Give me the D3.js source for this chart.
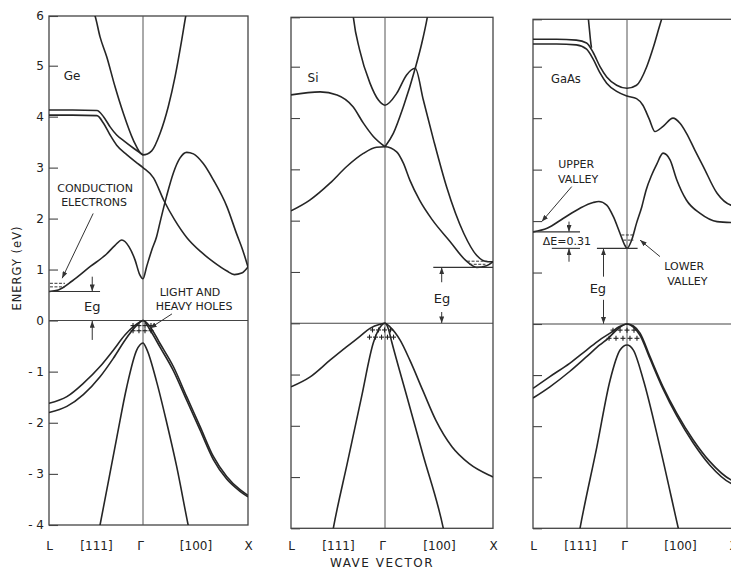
<!DOCTYPE html>
<html><head><meta charset="utf-8">
<script src="https://cdn.jsdelivr.net/npm/d3@7"></script>
<style>
body{margin:0;background:#fff}
text{font-family:"DejaVu Sans",sans-serif;fill:#222}
</style></head><body>
<script>
// wave vector k: L = -1, Gamma = 0, X = 1 ; energy E in eV
var kTickVals = [-1, -0.5, 0, 0.5, 1];
var kTickLabels = ["L", "[111]", "\u0393", "[100]", "X"];
var energyTicks = [-4, -3, -2, -1, 0, 1, 2, 3, 4, 5, 6];

// ---- Ge ----
var geCondA = [[-0.53,6.1],[-0.51,6.0],[-0.457,5.58],[-0.386,5.18],[-0.298,4.59],[-0.21,4.07],[-0.103,3.54],[0,3.25],[0.083,3.33],[0.162,3.67],[0.241,4.2],[0.305,4.78],[0.369,5.52],[0.407,6.0],[0.42,6.15]];
var geCondB = [[-1,4.13],[-0.75,4.13],[-0.49,4.12],[-0.42,4.0],[-0.35,3.8],[-0.28,3.64],[-0.2,3.52],[-0.1,3.38],[0,3.25]];
var geCondC = [[-1,4.03],[-0.75,4.03],[-0.49,4.02],[-0.42,3.87],[-0.35,3.64],[-0.28,3.44],[-0.17,3.25],[-0.07,3.1],[0,3.0],[0.1,2.8],[0.2,2.35],[0.3,1.98],[0.42,1.62],[0.55,1.35],[0.67,1.15],[0.8,0.97],[0.87,0.9],[0.94,0.93],[1,1.05]];
var geCondD = [[-1,0.57],[-0.9,0.6],[-0.75,0.78],[-0.56,1.06],[-0.39,1.3],[-0.3,1.47],[-0.225,1.58],[-0.15,1.45],[-0.085,1.19],[-0.035,0.9],[0,0.82],[0.035,1.06],[0.083,1.38],[0.13,1.65],[0.165,1.95],[0.226,2.45],[0.29,2.9],[0.35,3.18],[0.416,3.3],[0.48,3.27],[0.574,3.08],[0.67,2.76],[0.8,2.23],[0.89,1.71],[0.95,1.38],[1,1.05]];
var geHeavy = [[-1,-1.62],[-0.81,-1.49],[-0.635,-1.23],[-0.457,-0.9],[-0.316,-0.58],[-0.19,-0.28],[-0.103,-0.12],[-0.032,-0.03],[0,0],[0.067,-0.12],[0.162,-0.45],[0.289,-0.9],[0.416,-1.49],[0.543,-2.07],[0.67,-2.66],[0.797,-3.05],[0.924,-3.31],[1,-3.42]];
var geLight = [[-1,-1.8],[-0.81,-1.68],[-0.635,-1.45],[-0.457,-1.1],[-0.316,-0.74],[-0.19,-0.38],[-0.085,-0.13],[0,0],[0.06,-0.16],[0.162,-0.52],[0.289,-0.98],[0.416,-1.56],[0.543,-2.14],[0.67,-2.72],[0.797,-3.1],[0.924,-3.34],[1,-3.45]];
var geSplit = [[-0.47,-4.12],[-0.457,-4.0],[-0.28,-2.3],[-0.173,-1.3],[-0.067,-0.58],[0,-0.44],[0.035,-0.56],[0.13,-1.2],[0.226,-2.0],[0.32,-2.85],[0.43,-4.0],[0.44,-4.1]];

// ---- Si ----
var siCondTop = [[-0.345,6.15],[-0.335,5.98],[-0.27,5.34],[-0.16,4.68],[-0.07,4.35],[0,4.25],[0.108,4.48],[0.2,4.84],[0.28,4.97],[0.355,4.35],[0.45,3.57],[0.57,2.66],[0.73,1.75],[0.85,1.32],[0.95,1.2],[1,1.2]];
var siUpperLeft = [[-1,4.45],[-0.69,4.51],[-0.51,4.45],[-0.34,4.22],[-0.23,3.9],[-0.124,3.64],[0,3.44]];
var siRisingRight = [[0,3.44],[0.077,3.7],[0.17,4.22],[0.28,4.97],[0.34,5.47],[0.39,5.98],[0.4,6.1]];
var siHump = [[-1,2.19],[-0.8,2.4],[-0.585,2.73],[-0.41,3.05],[-0.23,3.31],[-0.09,3.43],[0,3.44],[0.108,3.34],[0.17,3.12],[0.23,2.79],[0.32,2.4],[0.44,2.01],[0.6,1.6],[0.75,1.22],[0.85,1.09],[0.94,1.12],[1,1.2]];
var siHeavy = [[-1,-1.24],[-0.8,-1.05],[-0.585,-0.72],[-0.41,-0.46],[-0.27,-0.26],[-0.16,-0.1],[-0.053,-0.02],[0,0],[0.046,-0.07],[0.14,-0.33],[0.23,-0.72],[0.35,-1.31],[0.47,-1.89],[0.62,-2.41],[0.78,-2.74],[0.99,-2.99],[1,-3.0]];
var siLight = [[-0.56,-4.1],[-0.55,-4.0],[-0.4,-2.72],[-0.25,-1.44],[-0.124,-0.38],[-0.06,-0.1],[0,0],[0.03,-0.1],[0.062,-0.36],[0.2,-1.41],[0.35,-2.55],[0.54,-4.0],[0.55,-4.1]];

// ---- GaAs ----
var gaCondStub = [[-0.415,6.1],[-0.408,5.95],[-0.398,5.75],[-0.388,5.55],[-0.378,5.4]];
var gaCondUpper = [[-1,5.58],[-0.75,5.58],[-0.54,5.56],[-0.43,5.5],[-0.36,5.3],[-0.287,5.0],[-0.216,4.8],[-0.11,4.64],[0,4.58],[0.09,4.64],[0.186,5.0],[0.25,5.42],[0.31,5.88],[0.34,6.1]];
var gaCondLower = [[-1,5.48],[-0.75,5.48],[-0.54,5.46],[-0.43,5.37],[-0.36,5.16],[-0.287,4.88],[-0.216,4.68],[-0.11,4.52],[0,4.43],[0.09,4.38],[0.15,4.25],[0.21,3.98],[0.264,3.74],[0.34,3.84],[0.434,4.0],[0.5,3.9],[0.56,3.71],[0.64,3.38],[0.72,3.06],[0.85,2.54],[0.98,2.31],[1,2.3]];
var gaCondLow = [[-1,1.79],[-0.85,1.86],[-0.68,2.05],[-0.5,2.25],[-0.36,2.36],[-0.3,2.38],[-0.216,2.31],[-0.146,2.09],[-0.074,1.76],[-0.02,1.52],[0,1.47],[0.044,1.63],[0.09,1.96],[0.14,2.28],[0.18,2.6],[0.23,2.88],[0.28,3.1],[0.34,3.32],[0.406,3.19],[0.47,2.8],[0.56,2.41],[0.69,2.15],[0.85,1.99],[1,1.97]];
var gaHeavy = [[-1,-1.26],[-0.82,-1.03],[-0.61,-0.77],[-0.43,-0.51],[-0.29,-0.31],[-0.18,-0.18],[-0.08,-0.05],[0,0],[0.06,-0.04],[0.123,-0.18],[0.217,-0.64],[0.34,-1.23],[0.47,-1.75],[0.625,-2.27],[0.78,-2.69],[0.98,-3.05],[1,-3.07]];
var gaLight = [[-1,-1.45],[-0.82,-1.23],[-0.61,-0.93],[-0.43,-0.64],[-0.29,-0.41],[-0.2,-0.28],[-0.1,-0.1],[0,0],[0.06,-0.06],[0.123,-0.22],[0.217,-0.68],[0.34,-1.27],[0.47,-1.8],[0.625,-2.33],[0.78,-2.76],[0.98,-3.12],[1,-3.14]];
var gaSplit = [[-0.51,-4.1],[-0.5,-4.0],[-0.32,-2.4],[-0.18,-1.1],[-0.074,-0.51],[0,-0.41],[0.06,-0.51],[0.155,-1.1],[0.31,-2.4],[0.484,-4.0],[0.495,-4.1]];

// hole and electron markers
var geHoleRows = [{E:-0.1, k:[-0.106,-0.043,0.019,0.076]}, {E:-0.2, k:[-0.106,-0.043,0.019,0.076]}];
var siHoleRows = [{E:-0.13, k:[-0.133,-0.069,-0.005,0.051]}, {E:-0.27, k:[-0.165,-0.101,-0.037,0.023,0.079]}];
var gaHoleRows = [{E:-0.12, k:[-0.149,-0.074,0,0.066]}, {E:-0.28, k:[-0.191,-0.117,-0.043,0.028,0.094]}];
var geElectronRows = [{E:0.73, k:[-0.99,-0.83]}, {E:0.66, k:[-0.99,-0.83]}];
var siElectronRows = [{E:1.21, k:[0.76,0.95]}, {E:1.15, k:[0.78,0.93]}];
var gaElectronRows = [{E:1.73, k:[-0.06,0.075]}, {E:1.63, k:[-0.04,0.06]}];

var svg = d3.select("body").append("svg").attr("width", 731).attr("height", 572);
var defs = svg.append("defs");
defs.append("marker").attr("id", "ah").attr("viewBox", "0 0 8 6")
  .attr("refX", 8).attr("refY", 3).attr("markerWidth", 7).attr("markerHeight", 5)
  .attr("markerUnits", "userSpaceOnUse").attr("orient", "auto")
  .append("path").attr("d", "M0,0L8,3L0,6Z").attr("fill", "#333");

var panels = [
  {id: "ge", xr: [49, 143, 248], yr: [525, 320.5, 65.7, 16], labels: true,
   bands: [geCondA, geCondB, geCondC, geCondD, geHeavy, geLight, geSplit],
   holes: geHoleRows, electrons: geElectronRows},
  {id: "si", xr: [291, 385, 493], yr: [528.3, 323.3, 66.7, 17.3], labels: false,
   bands: [siCondTop, siUpperLeft, siRisingRight, siHump, siHeavy, siLight],
   holes: siHoleRows, electrons: siElectronRows},
  {id: "ga", xr: [533, 627, 733], yr: [528.3, 324, 66.7, 19.3], labels: false,
   bands: [gaCondStub, gaCondUpper, gaCondLower, gaCondLow, gaHeavy, gaLight, gaSplit],
   holes: gaHoleRows, electrons: gaElectronRows}
];

function fmtE(d) { return d < 0 ? "- " + Math.abs(d) : String(d); }

panels.forEach(function(p) {
  p.x = d3.scaleLinear().domain([-1, 0, 1]).range(p.xr);
  p.y = d3.scaleLinear().domain([-4, 0, 5, 6]).range(p.yr);
  var x0 = p.xr[0], x1 = p.xr[2], yT = p.yr[3], yB = p.yr[0];
  var g = svg.append("g");

  defs.append("clipPath").attr("id", "clip-" + p.id).append("rect")
    .attr("x", x0).attr("y", yT).attr("width", x1 - x0).attr("height", yB - yT);

  // energy ticks (inward)
  var ax = d3.axisLeft(p.y).tickValues(energyTicks).tickSize(-9).tickPadding(5)
    .tickFormat(p.labels ? fmtE : "");
  var ag = g.append("g").attr("transform", "translate(" + x0 + ",0)").call(ax);
  ag.select(".domain").remove();
  ag.selectAll("line").attr("stroke", "#444").attr("stroke-width", 1.1);
  ag.selectAll("text").attr("font-size", 12).attr("font-family", "DejaVu Sans").attr("fill", "#222");

  // frame, gamma line, zero line
  g.append("rect").attr("x", x0).attr("y", yT).attr("width", x1 - x0).attr("height", yB - yT)
    .attr("fill", "none").attr("stroke", "#444").attr("stroke-width", 1.3);
  g.append("line").attr("x1", p.x(0)).attr("x2", p.x(0)).attr("y1", yT).attr("y2", yB)
    .attr("stroke", "#555").attr("stroke-width", 1);
  g.append("line").attr("x1", x0).attr("x2", x1).attr("y1", p.y(0)).attr("y2", p.y(0))
    .attr("stroke", "#444").attr("stroke-width", 1.1);

  // bands
  var line = d3.line().x(function(d) { return p.x(d[0]); }).y(function(d) { return p.y(d[1]); })
    .curve(d3.curveMonotoneX);
  g.append("g").attr("clip-path", "url(#clip-" + p.id + ")")
    .selectAll("path").data(p.bands).join("path")
    .attr("d", line).attr("fill", "none").attr("stroke", "#262626").attr("stroke-width", 1.6);

  // holes
  var hg = g.append("g").attr("stroke", "#222").attr("stroke-width", 1.1);
  p.holes.forEach(function(r) {
    r.k.forEach(function(k) {
      var cx = p.x(k), cy = p.y(r.E);
      hg.append("line").attr("x1", cx - 2.5).attr("x2", cx + 2.5).attr("y1", cy).attr("y2", cy);
      hg.append("line").attr("x1", cx).attr("x2", cx).attr("y1", cy - 2.5).attr("y2", cy + 2.5);
    });
  });
  // electrons
  g.append("g").selectAll("line").data(p.electrons).join("line")
    .attr("x1", function(r) { return p.x(r.k[0]); }).attr("x2", function(r) { return p.x(r.k[1]); })
    .attr("y1", function(r) { return p.y(r.E); }).attr("y2", function(r) { return p.y(r.E); })
    .attr("stroke", "#333").attr("stroke-width", 1).attr("stroke-dasharray", "3,1.5");

  // wave vector labels
  var bx = d3.axisBottom(p.x).tickValues(kTickVals).tickSize(0).tickPadding(0)
    .tickFormat(function(d, i) { return kTickLabels[i]; });
  var bg = svg.append("g").attr("transform", "translate(0,541)").call(bx);
  bg.select(".domain").remove();
  bg.selectAll("text").attr("font-size", 12).attr("font-family", "DejaVu Sans").attr("fill", "#222")
    .attr("x", function(d) { return d === 0 ? -3 : 0; });
});

// ---- annotations ----
function txt(p, k, E, s, size) {
  svg.append("text").attr("x", p.x(k)).attr("y", p.y(E)).attr("dy", "0.36em")
    .attr("text-anchor", "middle").attr("font-size", size || 11.5).text(s);
}
function arrow(p, k1, E1, k2, E2) {
  svg.append("line").attr("x1", p.x(k1)).attr("y1", p.y(E1)).attr("x2", p.x(k2)).attr("y2", p.y(E2))
    .attr("stroke", "#333").attr("stroke-width", 1).attr("marker-end", "url(#ah)");
}
function hline(p, k1, k2, E) {
  svg.append("line").attr("x1", p.x(k1)).attr("x2", p.x(k2)).attr("y1", p.y(E)).attr("y2", p.y(E))
    .attr("stroke", "#333").attr("stroke-width", 1.1);
}

var ge = panels[0], si = panels[1], ga = panels[2];

txt(ge, -0.755, 4.8, "Ge", 12);
txt(ge, -0.51, 2.59, "CONDUCTION", 11);
txt(ge, -0.52, 2.32, "ELECTRONS", 11);
arrow(ge, -0.53, 2.1, -0.86, 0.83);
hline(ge, -1, -0.457, 0.57);
arrow(ge, -0.54, 0.86, -0.54, 0.575);
arrow(ge, -0.54, -0.38, -0.54, -0.01);
txt(ge, -0.54, 0.285, "Eg", 13);
txt(ge, 0.448, 0.55, "LIGHT AND", 11);
txt(ge, 0.486, 0.28, "HEAVY HOLES", 11);
arrow(ge, 0.276, 0.13, 0.067, -0.15);

txt(si, -0.766, 4.78, "Si", 12);
hline(si, 0.447, 1, 1.09);
arrow(si, 0.525, 0.8, 0.525, 1.085);
arrow(si, 0.525, 0.22, 0.525, 0.005);
txt(si, 0.528, 0.49, "Eg", 13);

txt(ga, -0.65, 4.76, "GaAs", 11.5);
txt(ga, -0.54, 3.1, "UPPER", 11);
txt(ga, -0.52, 2.81, "VALLEY", 11);
arrow(ga, -0.588, 2.67, -0.907, 1.99);
hline(ga, -1, -0.5, 1.79);
hline(ga, -0.8, -0.5, 1.47);
hline(ga, -0.32, 0.1, 1.47);
arrow(ga, -0.617, 1.99, -0.617, 1.795);
arrow(ga, -0.617, 1.21, -0.617, 1.465);
txt(ga, -0.64, 1.61, "\u0394E=0.31", 11);
arrow(ga, -0.25, 0.92, -0.25, 1.465);
arrow(ga, -0.25, 0.47, -0.25, 0.005);
txt(ga, -0.31, 0.7, "Eg", 13);
txt(ga, 0.54, 1.12, "LOWER", 11);
txt(ga, 0.57, 0.83, "VALLEY", 11);
arrow(ga, 0.311, 1.31, 0.123, 1.63);

svg.append("text").attr("x", 382).attr("y", 567).attr("text-anchor", "middle")
  .attr("font-size", 12).attr("letter-spacing", 1.5).text("WAVE VECTOR");
svg.append("text").attr("transform", "translate(17,268) rotate(-90)").attr("dy", "0.36em")
  .attr("text-anchor", "middle").attr("font-size", 11.5).attr("letter-spacing", 1).text("ENERGY (eV)");
</script>
</body></html>
